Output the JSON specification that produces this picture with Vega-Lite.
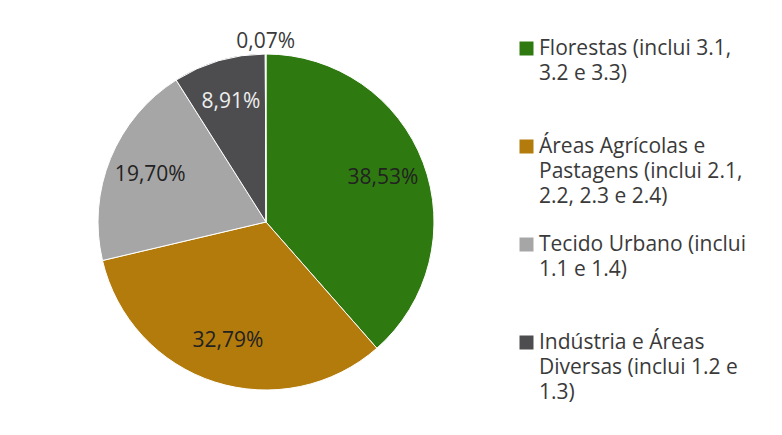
{
  "$schema": "https://vega.github.io/schema/vega-lite/v6.json",
  "width": 532,
  "height": 444,
  "padding": 0,
  "autosize": "pad",
  "background": "white",
  "config": {
    "view": {"stroke": null},
    "font": "Open Sans",
    "style": {"guide-label": {"lineHeight": 25}}
  },
  "data": {
    "values": [
      {"categoria": "Florestas (inclui 3.1, 3.2 e 3.3)", "valor": 38.53, "rotulo": "38,53%", "ordem": 1},
      {"categoria": "Áreas Agrícolas e Pastagens (inclui 2.1, 2.2, 2.3 e 2.4)", "valor": 32.79, "rotulo": "32,79%", "ordem": 2},
      {"categoria": "Tecido Urbano (inclui 1.1 e 1.4)", "valor": 19.70, "rotulo": "19,70%", "ordem": 3},
      {"categoria": "Indústria e Áreas Diversas (inclui 1.2 e 1.3)", "valor": 8.91, "rotulo": "8,91%", "ordem": 4},
      {"categoria": "Outros", "valor": 0.07, "rotulo": "0,07%", "ordem": 5}
    ]
  },
  "encoding": {
    "theta": {"field": "valor", "type": "quantitative", "stack": true},
    "order": {"field": "ordem", "type": "quantitative"}
  },
  "layer": [
    {
      "mark": {"type": "arc", "outerRadius": 168, "stroke": "white", "strokeWidth": 1},
      "encoding": {
        "color": {
          "field": "categoria",
          "type": "nominal",
          "scale": {
            "domain": [
              "Florestas (inclui 3.1, 3.2 e 3.3)",
              "Áreas Agrícolas e Pastagens (inclui 2.1, 2.2, 2.3 e 2.4)",
              "Tecido Urbano (inclui 1.1 e 1.4)",
              "Indústria e Áreas Diversas (inclui 1.2 e 1.3)",
              "Outros"
            ],
            "range": ["#2f7a10", "#b27b0c", "#a6a6a6", "#4d4d4f", "#7f9cc0"]
          },
          "legend": {
            "values": [
              "Florestas (inclui 3.1, 3.2 e 3.3)",
              "Áreas Agrícolas e Pastagens (inclui 2.1, 2.2, 2.3 e 2.4)",
              "Tecido Urbano (inclui 1.1 e 1.4)",
              "Indústria e Áreas Diversas (inclui 1.2 e 1.3)"
            ],
            "title": null,
            "orient": "none",
            "legendX": 516,
            "legendY": 38,
            "symbolType": "square",
            "symbolSize": 196,
            "symbolStrokeWidth": 0,
            "labelFont": "Open Sans",
            "labelFontSize": 21,
            "labelColor": "#3a3a3a",
            "labelLimit": 300,
            "labelOffset": 2,
            "rowPadding": 26,
            "labelExpr": "datum.label == 'Florestas (inclui 3.1, 3.2 e 3.3)' ? ['Florestas (inclui 3.1,', '3.2 e 3.3)', ''] : datum.label == 'Tecido Urbano (inclui 1.1 e 1.4)' ? ['Tecido Urbano (inclui', '1.1 e 1.4)', ''] : datum.label == 'Indústria e Áreas Diversas (inclui 1.2 e 1.3)' ? ['Indústria e Áreas', 'Diversas (inclui 1.2 e', '1.3)'] : ['Áreas Agrícolas e', 'Pastagens (inclui 2.1,', '2.2, 2.3 e 2.4)']"
          }
        }
      }
    },
    {
      "mark": {"type": "text", "radius": 125, "fontSize": 21},
      "encoding": {
        "text": {"condition": {"test": "datum.ordem < 5", "field": "rotulo"}, "value": ""},
        "color": {"condition": {"test": "datum.ordem == 4", "value": "#eeeeee"}, "value": "#222222"}
      }
    },
    {
      "mark": {"type": "text", "radius": 180, "fontSize": 21, "color": "#3a3a3a"},
      "encoding": {
        "text": {"condition": {"test": "datum.ordem == 5", "field": "rotulo"}, "value": ""}
      }
    }
  ]
}
